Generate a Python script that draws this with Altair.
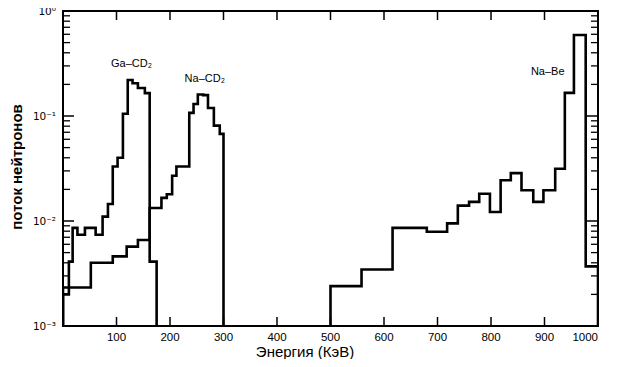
import altair as alt
import pandas as pd

# ---- data (energy in keV, neutron flux) ----
ga_edges = [0, 11, 18, 27, 41, 61, 74, 84, 93, 102, 112, 121, 130, 140, 153, 162, 175]
ga_vals = [0.0020, 0.0041, 0.0086, 0.0074, 0.0086, 0.0074, 0.011, 0.0145, 0.033,
           0.040, 0.105, 0.22, 0.205, 0.185, 0.165, 0.0041]

na_cd_edges = [0, 52, 93, 119, 140, 162, 184, 194, 204, 212, 236, 244, 252, 262,
               271, 282, 293, 300]
na_cd_vals = [0.00233, 0.0040, 0.0046, 0.0057, 0.0066, 0.0133, 0.0166, 0.018, 0.027,
              0.033, 0.107, 0.13, 0.16, 0.158, 0.119, 0.081, 0.0675]

na_be_edges = [500, 558, 616, 680, 718, 738, 759, 778, 798, 818, 837, 857, 879, 898,
               920, 938, 955, 977, 1000]
na_be_vals = [0.0024, 0.00345, 0.0086, 0.0079, 0.0095, 0.014, 0.0152, 0.0182, 0.0122,
              0.0244, 0.0286, 0.0196, 0.0152, 0.0196, 0.0314, 0.166, 0.59, 0.0037]

series_names = ["Ga–CD₂", "Na–CD₂", "Na–Be"]
label_x = [128, 265, 906]
label_y = [0.31, 0.225, 0.26]

x_label_values = [100, 200, 300, 400, 500, 600, 700, 800, 900]
x_last_label = [1000]
x_tick_values = [100, 200, 300, 400, 500, 600, 700, 800, 900]
y_decades = [0.001, 0.01, 0.1, 1.0]
y_decade_labels = ["10⁻³", "10⁻²", "10⁻¹", "10⁰"]
y_major_ticks = [0.01, 0.1]
y_minor_ticks = [m * d for d in (0.001, 0.01, 0.1) for m in range(2, 10)]

X_TITLE = "Энергия (КэВ)"
Y_TITLE = "поток нейтронов"

FLOOR = 0.001
W, H = 535, 315
FONT = "Liberation Sans"


def step_rows(name, edges, vals):
    rows = [(edges[0], FLOOR)]
    for e, v in zip(edges[:-1], vals):
        rows.append((e, v))
    rows.append((edges[-1], vals[-1]))
    rows.append((edges[-1], FLOOR))
    return [{"s": name, "i": i, "e": e, "f": f} for i, (e, f) in enumerate(rows)]


rows = (step_rows(series_names[0], ga_edges, ga_vals)
        + step_rows(series_names[1], na_cd_edges, na_cd_vals)
        + step_rows(series_names[2], na_be_edges, na_be_vals))
df = pd.DataFrame(rows)

xscale = alt.Scale(domain=[0, 1000], nice=False, zero=False)
yscale = alt.Scale(type="log", domain=[0.001, 1], nice=False)


def X(field):
    return alt.X(field, scale=xscale, axis=None)


def Y(field):
    return alt.Y(field, scale=yscale, axis=None)


lines = alt.Chart(df).mark_line(
    interpolate="step-after", color="black", strokeWidth=2.6, clip=True,
    strokeJoin="miter", strokeCap="square"
).encode(x=X("e:Q"), y=Y("f:Q"), detail="s:N", order="i:Q")

# inward ticks on all four sides
xt = pd.DataFrame({"xv": x_tick_values})
xt_bottom = alt.Chart(xt).mark_rule(color="black", strokeWidth=1.5).encode(
    x=X("xv:Q"), y=alt.value(H), y2=alt.value(H - 9))
xt_top = alt.Chart(xt).mark_rule(color="black", strokeWidth=1.5).encode(
    x=X("xv:Q"), y=alt.value(0), y2=alt.value(9))

ymin = pd.DataFrame({"yv": y_minor_ticks})
ymaj = pd.DataFrame({"yv": y_major_ticks})
yt_left_min = alt.Chart(ymin).mark_rule(color="black", strokeWidth=1.3).encode(
    y=Y("yv:Q"), x=alt.value(0), x2=alt.value(7))
yt_right_min = alt.Chart(ymin).mark_rule(color="black", strokeWidth=1.3).encode(
    y=Y("yv:Q"), x=alt.value(W - 7), x2=alt.value(W))
yt_left_maj = alt.Chart(ymaj).mark_rule(color="black", strokeWidth=1.5).encode(
    y=Y("yv:Q"), x=alt.value(0), x2=alt.value(11))
yt_right_maj = alt.Chart(ymaj).mark_rule(color="black", strokeWidth=1.5).encode(
    y=Y("yv:Q"), x=alt.value(W - 11), x2=alt.value(W))

# tick labels drawn as text
xl = pd.DataFrame({"xv": x_label_values, "t": [str(v) for v in x_label_values]})
x_labels = alt.Chart(xl).mark_text(
    font=FONT, fontSize=11.5, color="black", align="center", baseline="middle"
).encode(x=X("xv:Q"), y=alt.value(H + 12), text="t:N")
xl_last = pd.DataFrame({"xv": x_last_label, "t": [str(v) for v in x_last_label]})
x_label_last = alt.Chart(xl_last).mark_text(
    font=FONT, fontSize=11.5, color="black", align="right", baseline="middle"
).encode(x=X("xv:Q"), y=alt.value(H + 12), text="t:N")

yl = pd.DataFrame({"yv": y_decades, "t": y_decade_labels})
y_labels = alt.Chart(yl).mark_text(
    font="DejaVu Sans", fontSize=10.5, color="black", align="right",
    baseline="middle", dy=1
).encode(y=Y("yv:Q"), x=alt.value(-7), text="t:N")

titles = pd.DataFrame({"t": [X_TITLE]})
x_title = alt.Chart(titles).mark_text(
    font=FONT, fontSize=15, color="black", align="center", baseline="middle"
).encode(x=alt.value(242), y=alt.value(H + 26), text="t:N")
ytitles = pd.DataFrame({"t": [Y_TITLE]})
y_title = alt.Chart(ytitles).mark_text(
    font=FONT, fontSize=15, fontWeight="bold", color="black", align="center",
    baseline="middle", angle=270
).encode(x=alt.value(-46), y=alt.value(156), text="t:N")

lab = pd.DataFrame({"t": series_names, "lx": label_x, "ly": label_y})
labels = alt.Chart(lab).mark_text(font=FONT, fontSize=11, color="black").encode(
    x=X("lx:Q"), y=Y("ly:Q"), text="t:N")

chart = alt.layer(
    lines, xt_bottom, xt_top, yt_left_min, yt_right_min, yt_left_maj, yt_right_maj,
    x_labels, x_label_last, y_labels, x_title, y_title, labels
).properties(
    width=W, height=H,
    autosize=alt.AutoSizeParams(type="none"),
    padding={"left": 55, "top": 3, "right": 13, "bottom": 33},
    background="white",
).configure_view(stroke="black", strokeWidth=2)

chart.save("out.html", embed_options={"renderer": "svg", "actions": False})
